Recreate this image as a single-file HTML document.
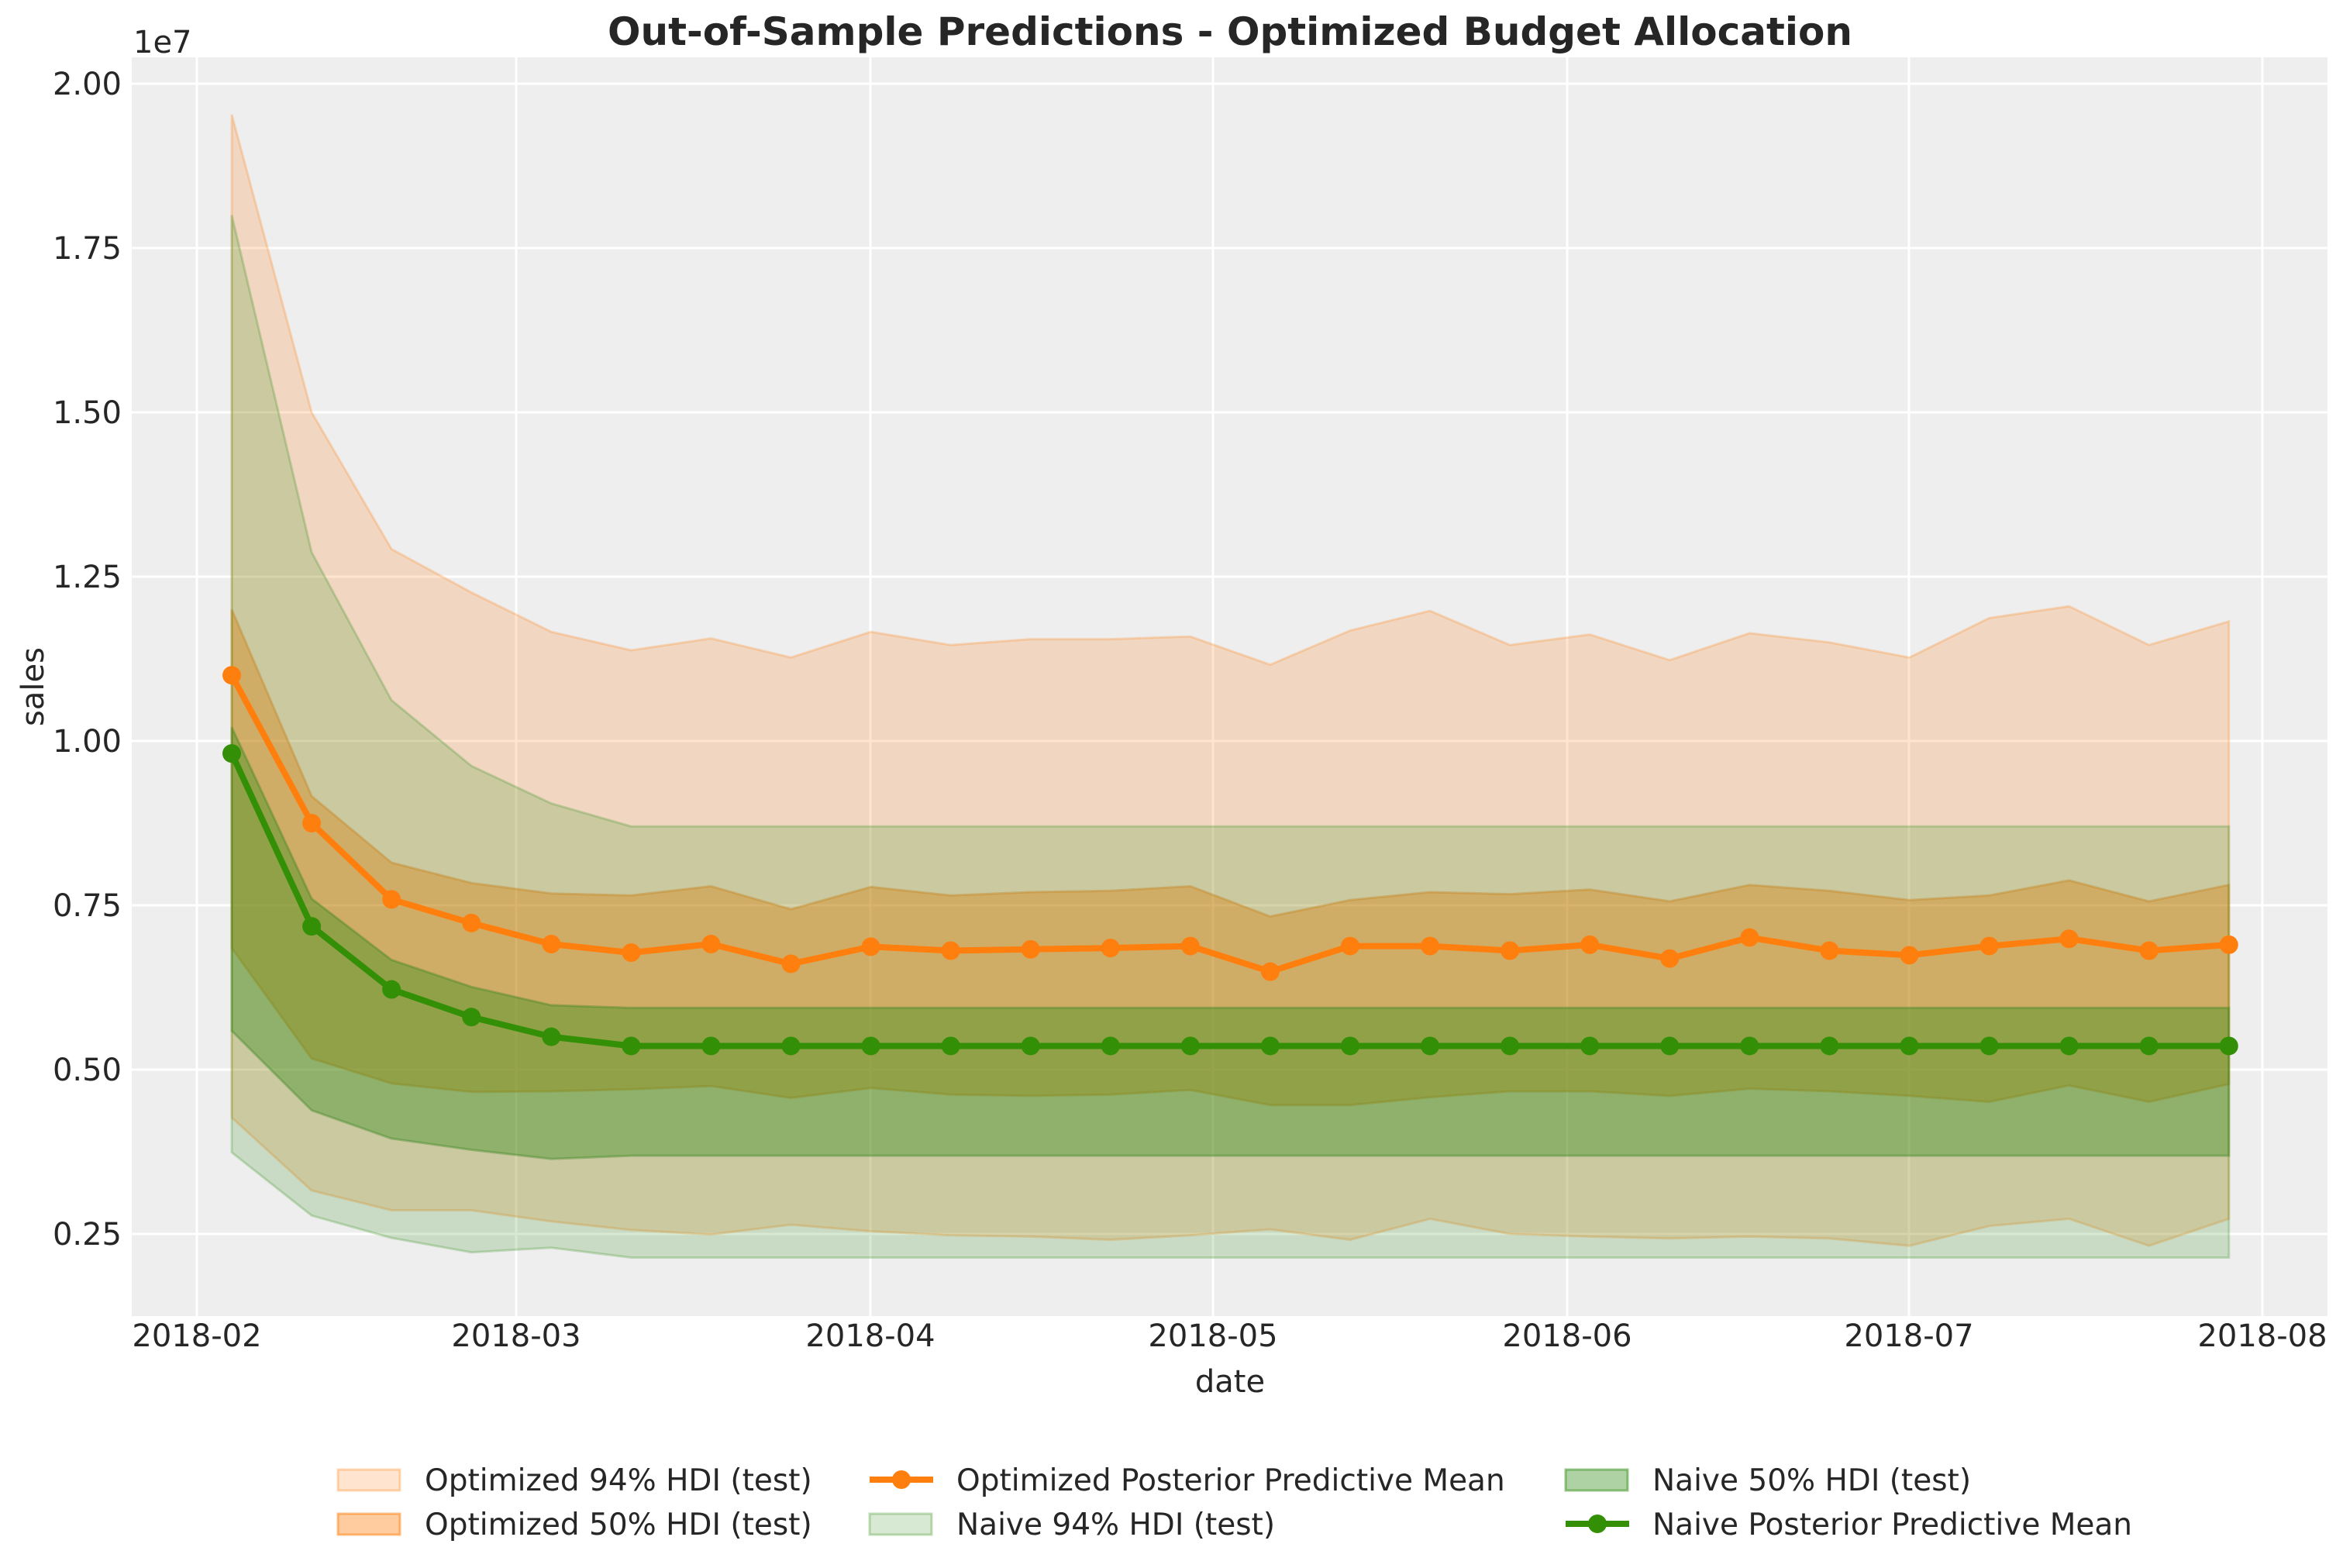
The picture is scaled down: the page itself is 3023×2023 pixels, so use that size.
<!DOCTYPE html>
<html><head><meta charset="utf-8"><style>
html,body{margin:0;padding:0;background:#fff;}
svg{display:block;font-family:"DejaVu Sans","Liberation Sans",sans-serif;}
</style></head><body>
<svg id="s" width="3023" height="2023" viewBox="0 0 3023 2023" xmlns="http://www.w3.org/2000/svg">
<rect x="0" y="0" width="3023" height="2023" fill="#fff"/>
<rect x="170" y="74" width="2833" height="1624" fill="#eeeeee"/>
<g stroke="#fff" stroke-width="3">
<line x1="170" x2="3003" y1="108" y2="108"/><line x1="170" x2="3003" y1="320" y2="320"/>
<line x1="170" x2="3003" y1="532" y2="532"/><line x1="170" x2="3003" y1="744" y2="744"/>
<line x1="170" x2="3003" y1="956" y2="956"/><line x1="170" x2="3003" y1="1168" y2="1168"/>
<line x1="170" x2="3003" y1="1380" y2="1380"/><line x1="170" x2="3003" y1="1592" y2="1592"/>
<line y1="74" y2="1698" x1="254" x2="254"/><line y1="74" y2="1698" x1="666" x2="666"/>
<line y1="74" y2="1698" x1="1123" x2="1123"/><line y1="74" y2="1698" x1="1565" x2="1565"/>
<line y1="74" y2="1698" x1="2022" x2="2022"/><line y1="74" y2="1698" x1="2463" x2="2463"/>
<line y1="74" y2="1698" x1="2919" x2="2919"/>
</g>
<g id="data"></g>
<g fill="#262626" font-size="40">
<text x="1587" y="58" text-anchor="middle" font-weight="bold" font-size="50">Out-of-Sample Predictions - Optimized Budget Allocation</text>
<text x="172" y="68">1e7</text>
<g text-anchor="end">
<text x="157" y="122">2.00</text><text x="157" y="334">1.75</text><text x="157" y="546">1.50</text>
<text x="157" y="758">1.25</text><text x="157" y="970">1.00</text><text x="157" y="1182">0.75</text>
<text x="157" y="1394">0.50</text><text x="157" y="1606">0.25</text>
</g>
<g text-anchor="middle">
<text x="254" y="1737">2018-02</text><text x="666" y="1737">2018-03</text><text x="1123" y="1737">2018-04</text>
<text x="1565" y="1737">2018-05</text><text x="2022" y="1737">2018-06</text><text x="2463" y="1737">2018-07</text>
<text x="2919" y="1737">2018-08</text>
<text x="1587" y="1796">date</text>
</g>
<text transform="translate(56,886) rotate(-90)" text-anchor="middle">sales</text>
<g font-size="39">
<text x="548" y="1923">Optimized 94% HDI (test)</text>
<text x="548" y="1980">Optimized 50% HDI (test)</text>
<text x="1234" y="1923">Optimized Posterior Predictive Mean</text>
<text x="1234" y="1980">Naive 94% HDI (test)</text>
<text x="2132" y="1923">Naive 50% HDI (test)</text>
<text x="2132" y="1980">Naive Posterior Predictive Mean</text>
</g>
</g>
<g>
<rect x="436" y="1896" width="80" height="27" fill="rgba(255,127,14,0.2)" stroke="rgba(255,127,14,0.3)" stroke-width="3"/>
<rect x="436" y="1953" width="80" height="27" fill="rgba(255,127,14,0.4)" stroke="rgba(255,127,14,0.5)" stroke-width="3"/>
<line x1="1122" x2="1204" y1="1909" y2="1909" stroke="#ff7f0e" stroke-width="8"/>
<circle cx="1163" cy="1909" r="12" fill="#ff7f0e"/>
<rect x="1122" y="1953" width="80" height="27" fill="rgba(53,143,28,0.2)" stroke="rgba(53,143,28,0.3)" stroke-width="3"/>
<rect x="2020" y="1896" width="80" height="27" fill="rgba(53,143,28,0.4)" stroke="rgba(53,143,28,0.5)" stroke-width="3"/>
<line x1="2020" x2="2102" y1="1966" y2="1966" stroke="#338f06" stroke-width="8"/>
<circle cx="2061" cy="1966" r="12" fill="#338f06"/>
</g>
</svg>
<script>
var X=function(i){return 299+i*103.07;};
var Y=function(v){return 108+(2-v)*848;};
var oU94=[1.953,1.50,1.292,1.226,1.166,1.138,1.156,1.127,1.166,1.146,1.155,1.155,1.159,1.116,1.168,1.198,1.146,1.162,1.123,1.164,1.150,1.127,1.187,1.205,1.146,1.182];
var oL94=[0.427,0.316,0.286,0.286,0.269,0.256,0.249,0.264,0.254,0.248,0.246,0.241,0.248,0.257,0.241,0.273,0.25,0.246,0.243,0.246,0.243,0.232,0.262,0.273,0.232,0.273];
var oU50=[1.20,0.916,0.815,0.784,0.768,0.765,0.779,0.744,0.778,0.765,0.77,0.772,0.779,0.733,0.758,0.77,0.767,0.774,0.756,0.781,0.772,0.758,0.765,0.788,0.756,0.781];
var oL50=[0.685,0.517,0.479,0.466,0.467,0.47,0.475,0.457,0.472,0.462,0.46,0.462,0.469,0.446,0.446,0.458,0.467,0.467,0.46,0.471,0.467,0.46,0.451,0.476,0.451,0.478];
var oM=[1.10,0.875,0.759,0.723,0.691,0.678,0.691,0.661,0.687,0.681,0.683,0.685,0.688,0.649,0.688,0.688,0.681,0.69,0.669,0.701,0.681,0.674,0.688,0.699,0.681,0.69];
function flat(a,v){while(a.length<26)a.push(v);return a;}
var nU94=flat([1.80,1.287,1.062,0.962,0.905],0.87);
var nL94=flat([0.374,0.278,0.244,0.222,0.229],0.214);
var nU50=flat([1.021,0.76,0.667,0.626,0.598],0.594);
var nL50=flat([0.559,0.438,0.395,0.378,0.364],0.369);
var nM=flat([0.981,0.718,0.622,0.580,0.55],0.536);
var g=document.getElementById('data'),NS='http://www.w3.org/2000/svg';
function band(u,l,fill,stroke){var p=[];for(var i=0;i<26;i++)p.push(X(i).toFixed(1)+','+Y(u[i]).toFixed(1));for(var i=25;i>=0;i--)p.push(X(i).toFixed(1)+','+Y(l[i]).toFixed(1));var e=document.createElementNS(NS,'polygon');e.setAttribute('points',p.join(' '));e.setAttribute('fill',fill);e.setAttribute('stroke',stroke);e.setAttribute('stroke-width','3');g.appendChild(e);}
function line(m,c){var p=[];for(var i=0;i<26;i++)p.push(X(i).toFixed(1)+','+Y(m[i]).toFixed(1));var e=document.createElementNS(NS,'polyline');e.setAttribute('points',p.join(' '));e.setAttribute('fill','none');e.setAttribute('stroke',c);e.setAttribute('stroke-width','8');e.setAttribute('stroke-linejoin','round');g.appendChild(e);for(var i=0;i<26;i++){var c2=document.createElementNS(NS,'circle');c2.setAttribute('cx',X(i));c2.setAttribute('cy',Y(m[i]));c2.setAttribute('r','12');c2.setAttribute('fill',c);g.appendChild(c2);}}
band(oU94,oL94,'rgba(255,127,14,0.2)','rgba(255,127,14,0.25)');
band(oU50,oL50,'rgba(255,127,14,0.4)','rgba(230,120,14,0.35)');
band(nU94,nL94,'rgba(53,143,28,0.2)','rgba(53,143,28,0.25)');
band(nU50,nL50,'rgba(53,143,28,0.4)','rgba(53,130,28,0.35)');
line(oM,'#ff7f0e');
line(nM,'#338f06');
</script>
</body></html>
